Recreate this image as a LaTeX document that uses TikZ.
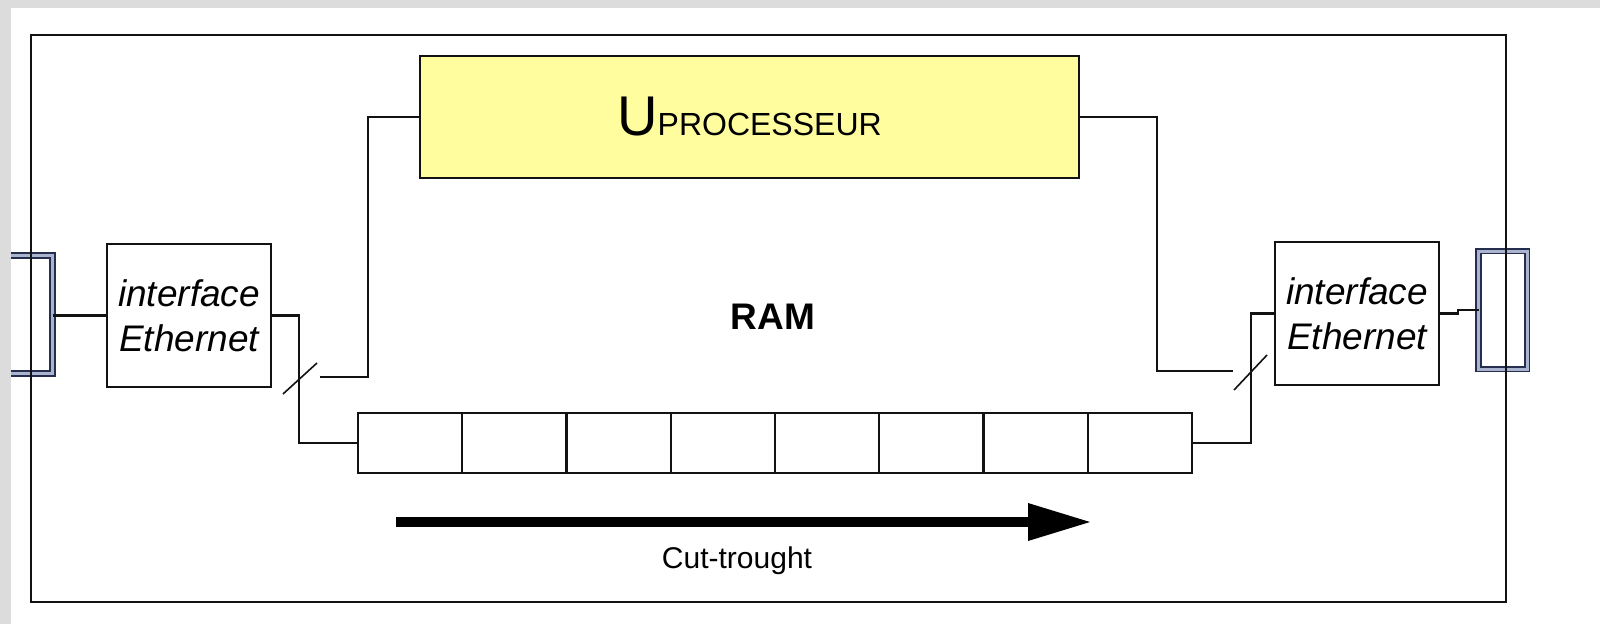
\documentclass[tikz,border=0pt]{standalone}
\usepackage{fontspec}
\setmainfont{Liberation Sans}
\usetikzlibrary{arrows.meta}

\definecolor{procfill}{RGB}{255,253,158}
\definecolor{pagegray}{RGB}{220,220,220}
\definecolor{plugline}{RGB}{38,46,80}
\definecolor{plugfill}{RGB}{170,180,206}
\definecolor{ink}{RGB}{18,18,18}

\tikzset{
  box/.style={draw=ink, line width=2.2pt, inner sep=0pt, outer sep=0pt},
  ifbox/.style={box, minimum width=164pt, minimum height=143pt,
    align=center, font=\fontsize{37}{45}\selectfont\itshape},
  procbox/.style={box, fill=procfill, minimum width=659pt, minimum height=122pt},
  cell/.style={box, minimum width=104.25pt, minimum height=60pt},
  plug/.style={draw=plugline, double=plugfill, double distance=3pt,
    line width=1.8pt, fill=white, inner sep=0pt, outer sep=0pt},
  wire/.style={draw=ink, line width=2.2pt},
  tickmark/.style={draw=ink, line width=1.6pt},
  flow/.style={draw=black, line width=9.5pt,
    -{Triangle[length=62pt,width=38pt,line width=0pt]}},
}

\begin{document}
\begin{tikzpicture}[x=1pt,y=-1pt]
  \useasboundingbox (0,0) rectangle (1600,624);

  % Ethernet sockets at the board edge
  \node[plug, minimum width=62.5pt, minimum height=118pt] (conL) at (21.25,314.5) {};
  \node[plug, minimum width=48.5pt, minimum height=118pt] (conR) at (1502.75,310) {};

  % board outline, drawn across the sockets
  \draw[ink, line width=2.6pt] (31,35) rectangle (1506,602);

  % page margin bands
  \fill[pagegray] (0,0) rectangle (1600,8);
  \fill[pagegray] (0,0) rectangle (11,624);

  % processor
  \node[procbox] (proc) at (749.5,117)
    {\fontsize{56}{60}\selectfont U\fontsize{32}{36}\selectfont PROCESSEUR};

  % Ethernet interfaces
  \node[ifbox] (ifL) at (189,315.5) {interface\\Ethernet};
  \node[ifbox] (ifR) at (1357,313.5) {interface\\Ethernet};

  % RAM label and buffer cells
  \node[font=\fontsize{37}{42}\selectfont\bfseries] (ramlbl) at (773,317) {RAM};
  \foreach \i in {1,...,8} {
    \node[cell] (c\i) at ({358+104.25*(\i-0.5)},443) {};
  }

  % free ends of the processor taps
  \coordinate (tapL) at (320,377);
  \coordinate (tapR) at (1233,371);

  % wiring
  \draw[wire] (conL.east |- ifL.west) -- (ifL.west);
  \draw[wire] (ifL.east) -- ++(28,0) |- (c1.west);
  \draw[wire] (proc.west) -- ++(-52,0) |- (tapL);
  \draw[wire] (proc.east) -- ++(78,0) |- (tapR);
  \draw[wire] (c8.east) -- ++(59,0) |- (ifR.west);
  \draw[wire] (ifR.east) -- ++(19,0) |- (conR.west);

  % bus width marks
  \coordinate (sLa) at (283,394);
  \coordinate (sLb) at (317,363);
  \coordinate (sRa) at (1234,390);
  \coordinate (sRb) at (1267,355);
  \draw[tickmark] (sLa) -- (sLb);
  \draw[tickmark] (sRa) -- (sRb);

  % data flow direction
  \coordinate (arrS) at (396,522);
  \coordinate (arrE) at (1090,522);
  \draw[flow] (arrS) -- (arrE);
  \node[font=\fontsize{30}{36}\selectfont] (cutlbl) at (737,561) {Cut-trought};
\end{tikzpicture}
\end{document}
